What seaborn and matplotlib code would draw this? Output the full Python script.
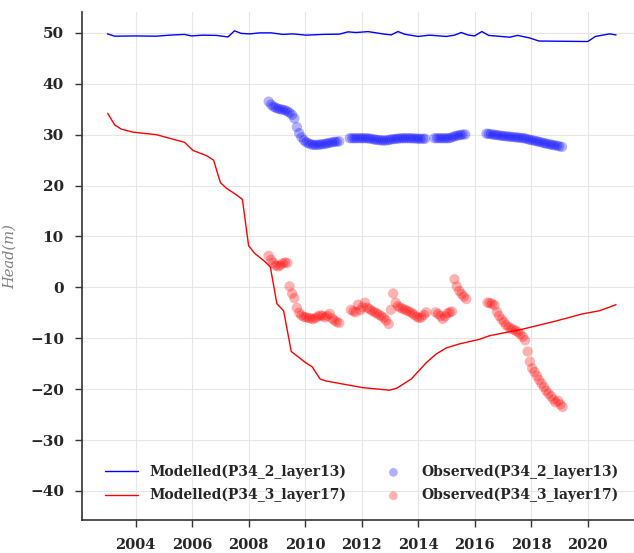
import numpy as np
import pandas as pd
import matplotlib
matplotlib.use("Agg")
import matplotlib.pyplot as plt
import seaborn as sns

# modelled heads (decimal year, head m)
mod2_x = [2003.0, 2003.26, 2004.0, 2004.73, 2005.2, 2005.73, 2005.97, 2006.38, 2006.86, 2007.27,
          2007.5, 2007.74, 2008.04, 2008.39, 2008.8, 2009.21, 2009.57, 2010.04, 2010.63, 2011.22,
          2011.52, 2011.8, 2012.23, 2012.75, 2013.05, 2013.29, 2013.52, 2014.0, 2014.41, 2015.0,
          2015.29, 2015.53, 2015.76, 2016.0, 2016.26, 2016.5, 2017.24, 2017.53, 2017.95, 2018.28,
          2020.01, 2020.28, 2020.78, 2021.01]
mod2_y = [49.8, 49.35, 49.4, 49.35, 49.55, 49.7, 49.4, 49.55, 49.5, 49.2,
          50.4, 49.9, 49.8, 50.0, 50.0, 49.7, 49.8, 49.55, 49.7, 49.75,
          50.2, 50.07, 50.25, 49.8, 49.6, 50.26, 49.74, 49.3, 49.55, 49.3,
          49.55, 50.07, 49.6, 49.4, 50.26, 49.5, 49.15, 49.5, 49.0, 48.4,
          48.3, 49.3, 49.8, 49.6]

mod3_x = [2003.01, 2003.26, 2003.49, 2003.9, 2004.73, 2005.73, 2006.03, 2006.5, 2006.76, 2007.0,
          2007.21, 2007.56, 2007.78, 2008.0, 2008.21, 2008.57, 2008.77, 2009.0, 2009.24, 2009.51,
          2010.02, 2010.25, 2010.53, 2010.75, 2012.04, 2012.99, 2013.25, 2013.76, 2014.29, 2014.64,
          2015.0, 2015.47, 2016.18, 2016.53, 2017.71, 2018.89, 2019.83, 2020.42, 2021.01]
mod3_y = [34.2, 31.9, 31.1, 30.5, 30.0, 28.5, 26.9, 25.9, 25.0, 20.6,
          19.5, 18.2, 17.3, 8.2, 6.7, 5.1, 4.0, -3.2, -4.6, -12.6,
          -14.8, -15.6, -18.0, -18.4, -19.7, -20.2, -19.8, -18.0, -14.8, -13.1,
          -11.9, -11.1, -10.2, -9.5, -8.2, -6.6, -5.2, -4.6, -3.4]

# observed heads, P34_2
obs2_x = [2008.71, 2008.80, 2008.88, 2008.96, 2009.04, 2009.12, 2009.21, 2009.29, 2009.37, 2009.45,
          2009.54, 2009.62, 2009.71, 2009.79, 2009.87, 2009.96, 2010.04, 2010.12, 2010.21, 2010.29,
          2010.37, 2010.46, 2010.54, 2010.62, 2010.71, 2010.79, 2010.87, 2010.96, 2011.04, 2011.12,
          2011.21,
          2011.58, 2011.67, 2011.75, 2011.83, 2011.92, 2012.00, 2012.08, 2012.17, 2012.25, 2012.33,
          2012.42, 2012.50, 2012.58, 2012.67, 2012.75, 2012.83, 2012.92, 2013.00, 2013.08, 2013.17,
          2013.25, 2013.33, 2013.42, 2013.50, 2013.58, 2013.67, 2013.75, 2013.83, 2013.92, 2014.00,
          2014.08, 2014.17, 2014.25,
          2014.58, 2014.67, 2014.75, 2014.83, 2014.92, 2015.00, 2015.08, 2015.17, 2015.25, 2015.33,
          2015.42, 2015.50, 2015.58, 2015.67,
          2016.42, 2016.50, 2016.58, 2016.67, 2016.75, 2016.83, 2016.92, 2017.00, 2017.08, 2017.17,
          2017.25, 2017.33, 2017.42, 2017.50, 2017.58, 2017.67, 2017.75, 2017.83, 2017.92, 2018.00,
          2018.08, 2018.17, 2018.25, 2018.33, 2018.42, 2018.50, 2018.58, 2018.67, 2018.75, 2018.83,
          2018.92, 2019.00, 2019.10]
obs2_y = [36.5, 35.9, 35.5, 35.3, 35.1, 35.0, 34.9, 34.8, 34.6, 34.3,
          33.9, 33.2, 31.5, 30.3, 29.5, 28.9, 28.5, 28.3, 28.1, 28.0,
          28.0, 28.0, 28.1, 28.1, 28.2, 28.3, 28.4, 28.5, 28.6, 28.6,
          28.7,
          29.3, 29.3, 29.3, 29.3, 29.3, 29.3, 29.3, 29.3, 29.25, 29.2,
          29.1, 29.0, 28.95, 28.9, 28.85, 28.85, 28.9, 29.0, 29.1, 29.15,
          29.2, 29.25, 29.3, 29.3, 29.3, 29.3, 29.3, 29.25, 29.25, 29.2,
          29.2, 29.2, 29.2,
          29.3, 29.3, 29.3, 29.3, 29.3, 29.3, 29.3, 29.4, 29.6, 29.75,
          29.85, 29.95, 30.0, 30.05,
          30.2, 30.15, 30.1, 30.0, 29.95, 29.9, 29.8, 29.75, 29.7, 29.65,
          29.6, 29.55, 29.5, 29.45, 29.4, 29.35, 29.3, 29.2, 29.05, 28.95,
          28.85, 28.75, 28.65, 28.55, 28.4, 28.3, 28.2, 28.1, 28.0, 27.9,
          27.85, 27.7, 27.6]

# observed heads, P34_3
obs3_x = [2008.71, 2008.80, 2008.88, 2008.96, 2009.04, 2009.12, 2009.20, 2009.29, 2009.37,
          2009.45, 2009.54, 2009.62, 2009.71, 2009.79, 2009.87, 2009.96, 2010.04, 2010.12, 2010.21,
          2010.29, 2010.37, 2010.46, 2010.54, 2010.62, 2010.71, 2010.79, 2010.87, 2010.96, 2011.04,
          2011.12, 2011.21,
          2011.62, 2011.71, 2011.79, 2011.87, 2011.96, 2012.04, 2012.12, 2012.21, 2012.29, 2012.37,
          2012.46, 2012.54, 2012.62, 2012.71, 2012.79, 2012.87, 2012.96,
          2013.04, 2013.12, 2013.21, 2013.29, 2013.37, 2013.46, 2013.54, 2013.62, 2013.71, 2013.79,
          2013.87, 2013.96, 2014.04, 2014.12, 2014.21, 2014.29,
          2014.62, 2014.71, 2014.79, 2014.87, 2014.96, 2015.04, 2015.12, 2015.20,
          2015.29, 2015.37, 2015.46, 2015.54, 2015.62, 2015.71,
          2016.46, 2016.54, 2016.62, 2016.71, 2016.79, 2016.87, 2016.96, 2017.04, 2017.12, 2017.21,
          2017.29, 2017.37, 2017.46, 2017.54, 2017.62, 2017.71, 2017.79, 2017.88, 2017.96, 2018.04,
          2018.12, 2018.21, 2018.29, 2018.37, 2018.46, 2018.54, 2018.62, 2018.71, 2018.79, 2018.87,
          2018.96, 2019.04, 2019.12]
obs3_y = [6.2, 5.4, 4.8, 4.3, 4.1, 4.3, 4.7, 4.9, 4.8,
          0.2, -1.2, -2.1, -4.0, -5.0, -5.5, -5.8, -5.9, -6.0, -6.1,
          -6.25, -6.0, -5.7, -5.5, -5.6, -5.9, -5.6, -5.2, -6.1, -6.5,
          -6.8, -7.0,
          -4.4, -4.7, -4.9, -3.4, -4.5, -3.9, -3.0, -4.0, -4.3, -4.6,
          -4.9, -5.1, -5.4, -5.7, -6.0, -6.5, -7.2,
          -4.4, -1.2, -3.0, -3.7, -4.0, -4.2, -4.4, -4.6, -4.8, -5.1,
          -5.4, -5.8, -6.0, -5.9, -5.4, -4.9,
          -4.9, -5.2, -5.6, -6.2, -5.7, -5.1, -4.9, -4.75,
          1.6, 0.2, -0.7, -1.3, -1.8, -2.3,
          -3.0, -3.1, -3.2, -3.5, -4.8, -5.6, -6.3, -6.8, -7.4, -7.8,
          -8.1, -8.3, -8.5, -8.8, -9.2, -9.7, -10.4, -12.6, -14.6, -15.9,
          -16.6, -17.4, -18.2, -18.9, -19.6, -20.3, -20.9, -21.4, -22.0, -22.6,
          -22.3, -23.0, -23.5]

year_ticks = [2004, 2006, 2008, 2010, 2012, 2014, 2016, 2018, 2020]
head_ticks = [-40, -30, -20, -10, 0, 10, 20, 30, 40, 50]

sns.set_style("whitegrid", {"grid.color": "#e6e6e6", "axes.edgecolor": "#333333"})
plt.rcParams["font.family"] = ["DejaVu Serif"]

fig = plt.figure(figsize=(6.34, 5.53), dpi=100)
ax = fig.add_axes([0.1293, 0.0597, 0.882, 0.9186])

sns.lineplot(x=mod2_x, y=mod2_y, color="blue", lw=1, sort=False, estimator=None,
             label="Modelled(P34_2_layer13)", ax=ax)
sns.lineplot(x=mod3_x, y=mod3_y, color="red", lw=1, sort=False, estimator=None,
             label="Modelled(P34_3_layer17)", ax=ax)
sns.scatterplot(x=obs2_x, y=obs2_y, color="blue", alpha=0.3, s=55, edgecolor="none",
                label="Observed(P34_2_layer13)", ax=ax)
sns.scatterplot(x=obs3_x, y=obs3_y, color="red", alpha=0.3, s=55, edgecolor="none",
                label="Observed(P34_3_layer17)", ax=ax)

ax.set_xlim(2002.1, 2021.9)
ax.set_ylim(-45.7, 54.1)
ax.set_xticks(year_ticks)
ax.set_yticks(head_ticks)
ax.set_xticklabels([str(t) for t in year_ticks], fontweight="bold", fontsize=10.5)
ax.set_yticklabels([("\u2212" + str(-t)) if t < 0 else str(t) for t in head_ticks],
                   fontweight="bold", fontsize=11)
ax.tick_params(axis="both", which="major", direction="out", length=5, width=1,
               color="#333333", bottom=True, left=True, pad=8)
ax.set_ylabel("Head(m)", fontstyle="italic", color="gray", fontsize=10.5)
ax.yaxis.set_label_coords(-0.116, 0.518)
ax.set_xlabel("")

for side in ["top", "right"]:
    ax.spines[side].set_visible(False)
ax.spines["left"].set_linewidth(1.2)
ax.spines["bottom"].set_linewidth(1.2)

leg = ax.legend(loc="lower center", ncol=2, frameon=False, bbox_to_anchor=(0.5, 0.01),
                prop={"weight": "bold", "size": 10}, columnspacing=2.2, handlelength=2.4,
                labelspacing=0.65, markerscale=0.85)

fig.savefig("out.png", dpi=100)
